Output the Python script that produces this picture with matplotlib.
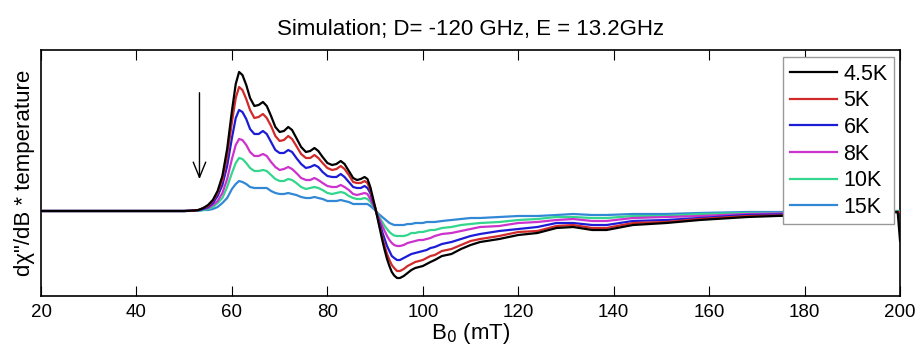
import matplotlib

matplotlib.use("Agg")
import matplotlib.pyplot as plt

plt.rcParams["font.family"] = ["Liberation Sans", "DejaVu Sans"]

# field axis (mT), shared by all traces
B = [20, 50, 52, 53, 54, 55, 56, 57, 58, 59,
     60, 60.8, 61.5, 62.2, 63, 63.8, 64.7, 65.6, 66.5, 67.3,
     68.2, 69.1, 70, 70.9, 71.8, 72.6, 73.5, 74.5, 75.5, 76.4,
     77.3, 78.1, 79, 80, 81, 81.9, 82.8, 83.6, 84.5, 85.4,
     86.2, 87, 87.8, 88.4, 89, 89.5, 90, 90.5, 91, 91.5,
     92, 92.5, 93, 93.5, 94, 94.6, 95.2, 96, 96.8, 97.6,
     98.4, 99.2, 100, 100.8, 101.6, 102.5, 104, 106, 108, 110,
     112, 116, 120, 124, 128, 131.5, 135.5, 138.5, 144, 151,
     158, 168, 180, 190, 199.5, 200]

# dchi''/dB * T, arbitrary units
T4_5 = [0, 0, 0.5, 1, 3, 6, 11, 20, 35, 62,
        100, 127, 139, 136, 126, 113, 105, 106, 109, 105,
        95, 84, 79, 80, 84, 81, 73, 64, 59, 60,
        63, 60, 54, 48, 46, 47, 50, 47, 40, 33,
        31, 32, 34, 32, 24, 14, 4, -7, -18, -29,
        -39, -48, -55, -61, -64.5, -67, -67, -65, -62, -59,
        -57, -56, -55, -53, -51, -49, -45, -43, -38, -34,
        -31, -28, -24, -22, -17, -16, -19, -19, -14, -12,
        -9, -6, -4, -2, -1, -30]
T5 = [0, 0, 0.4, 1, 3, 5, 10, 18, 31, 55,
      89, 113, 124, 121, 112, 101, 93, 94, 97, 93,
      85, 75, 70, 71, 75, 72, 65, 57, 53, 53,
      56, 53, 48, 43, 41, 42, 45, 42, 36, 29,
      28, 28, 30, 28, 21, 12, 4, -6, -16, -26,
      -35, -43, -49, -54, -57, -60, -60, -58, -55, -53,
      -51, -50, -49, -47, -45, -44, -40, -38, -34, -30,
      -28, -25, -21, -20, -15, -14, -17, -17, -12, -11,
      -8, -5, -4, -2, -1, -1]
T6 = [0, 0, 0.4, 1, 2, 4, 8, 15, 26, 45,
      73, 93, 101, 99, 92, 82, 77, 77, 80, 77,
      69, 61, 58, 58, 61, 59, 53, 47, 43, 44,
      46, 44, 39, 35, 34, 34, 37, 34, 29, 24,
      23, 23, 25, 23, 18, 10, 3, -5, -13, -21,
      -28, -35, -40, -45, -47, -49, -49, -47, -45, -43,
      -42, -41, -40, -39, -37, -36, -33, -31, -28, -25,
      -23, -20, -18, -16, -12, -12, -14, -14, -10, -9,
      -7, -4, -3, -2, -1, -1]
T8 = [0, 0, 0.3, 1, 2, 3, 6, 10, 18, 32,
      52, 66, 72, 71, 66, 59, 55, 55, 57, 55,
      49, 44, 41, 42, 44, 42, 38, 33, 31, 31,
      33, 31, 28, 25, 24, 24, 26, 24, 21, 17,
      16, 17, 18, 17, 12, 7, 2, -4, -9, -15,
      -20, -25, -29, -32, -34, -35, -35, -34, -32, -31,
      -30, -29, -29, -28, -27, -25, -23, -22, -20, -18,
      -16, -15, -12, -11, -9, -8, -10, -10, -7, -6,
      -5, -3, -2, -1, -1, -1]
T10 = [0, 0, 0.2, 0.4, 1, 2, 4, 8, 13, 24,
       38, 48, 53, 52, 48, 43, 40, 40, 41, 40,
       36, 32, 30, 30, 32, 31, 28, 24, 22, 23,
       24, 23, 21, 18, 17, 18, 19, 18, 15, 13,
       12, 12, 13, 12, 9, 5, 2, -3, -7, -11,
       -15, -18, -21, -23, -24.5, -25, -25, -25, -24, -22,
       -22, -21, -21, -20, -19, -19, -17, -16, -14, -13,
       -12, -11, -9, -8, -6, -6, -7, -7, -5, -5,
       -3, -2, -2, -1, 0, 0]
T15 = [0, 0, 0.1, 0.2, 1, 1, 2, 4, 8, 13,
       22, 27, 30, 29, 27, 24, 23, 23, 23, 23,
       20, 18, 17, 17, 18, 17, 16, 14, 13, 13,
       14, 13, 12, 10, 10, 10, 11, 10, 9, 7,
       7, 7, 7, 7, 5, 3, 1, -2, -4, -6,
       -8, -10, -12, -13, -14, -14, -14, -14, -13, -13,
       -12, -12, -12, -11, -11, -11, -10, -9, -8, -7,
       -7, -6, -5, -5, -4, -3, -4, -4, -3, -3,
       -2, -1, -1, -1, 0, 0]

LABELS = ["4.5K", "5K", "6K", "8K", "10K", "15K"]
COLORS = ["#000000", "#d02a2a", "#1c1cd6", "#cc33cc", "#33d68c", "#3388d6"]

fig = plt.figure(figsize=(9.22, 3.56), dpi=100)
ax = fig.add_axes([0.0445, 0.1685, 0.9317, 0.6911])

series = [T4_5, T5, T6, T8, T10, T15]
for i, (y, lab, c) in enumerate(zip(series, LABELS, COLORS)):
    ax.plot(B, y, color=c, lw=1.6, label=lab, zorder=10 - i, solid_joinstyle="round")

# temperature arrow
ax.annotate("", xy=(53.2, 29), xytext=(53.2, 121),
            arrowprops=dict(arrowstyle="->,head_length=1.1,head_width=0.45", color="black", lw=1.0))

ax.set_xlim(20, 200)
ax.set_ylim(-85, 161)
ax.set_xticks(range(20, 201, 20))
ax.set_yticks([])
ax.tick_params(axis="x", direction="in", length=7, top=True, labelsize=13.5, pad=6)
for s in ax.spines.values():
    s.set_linewidth(1.2)

ax.set_title("Simulation; D= -120 GHz, E = 13.2GHz", fontsize=16, pad=11)
ax.set_xlabel("B$_0$ (mT)", fontsize=16, labelpad=0)
ax.set_ylabel('dχ"/dB * temperature', fontsize=16, labelpad=4)

leg = ax.legend(loc="upper right", bbox_to_anchor=(0.993, 0.97), fontsize=15.5,
                labelspacing=0.26, handlelength=2.2, handletextpad=0.3, borderpad=0.3,
                borderaxespad=0, fancybox=False, framealpha=1)
leg.set_zorder(20)
leg.get_frame().set_edgecolor("#999999")
leg.get_frame().set_linewidth(1.0)

fig.savefig("out.png", dpi=100)
